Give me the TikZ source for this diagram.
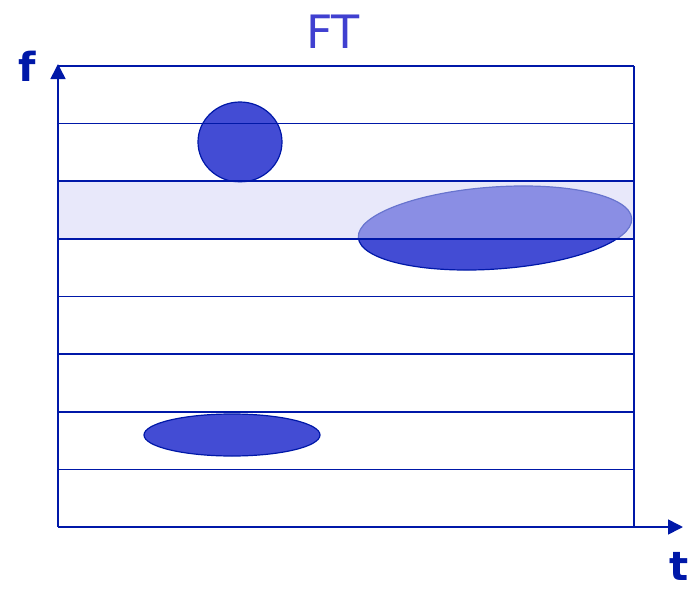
\documentclass[tikz,border=0pt]{standalone}
\usepackage{fontspec}
\setmainfont{DejaVu Sans}
\usepackage{tikz}
\usetikzlibrary{arrows.meta,shapes.geometric}
\definecolor{azulEixo}{RGB}{0,24,168}
\definecolor{azulMancha}{RGB}{67,76,212}
\definecolor{azulFaixa}{RGB}{209,209,245}
\definecolor{azulTitulo}{RGB}{64,64,208}
\tikzset{
    grade/.style={draw=azulEixo, line width=1.6pt},
    eixo/.style={grade, -{Triangle[length=15pt,width=15pt]}},
    mancha/.style={
        ellipse,
        draw=azulEixo,
        line width=1.2pt,
        fill=azulMancha,
        inner sep=0pt
    },
    faixa/.style={fill=azulFaixa, fill opacity=0.5},
    rotulo/.style={text=azulEixo, inner sep=0pt, font=\fontsize{40}{40}\selectfont\bfseries}
}
\begin{document}
\begin{tikzpicture}[x=1pt, y=-1pt]
    \useasboundingbox (0,0) rectangle (697,589);
    % manchas de energia no plano tempo-frequencia
    \node[mancha, minimum width=84pt, minimum height=80pt] (circulo) at (240,142) {};
    \node[mancha, minimum width=274pt, minimum height=82pt, rotate=4] (elipseGrande) at (495,228) {};
    \node[mancha, minimum width=176pt, minimum height=42pt] (elipsePequena) at (232,435) {};

    % faixa de frequencia destacada
    \fill[faixa] (58,181.25) rectangle (634,238.9);

    % grade de faixas
    \foreach \i in {0,...,8}
        \draw[grade] (58,{66+57.625*\i}) -- (634,{66+57.625*\i});
    \draw[grade] (634,66) -- (634,527);

    % eixos
    \coordinate (origem) at (58,527);
    \coordinate (topoF) at (58,64);
    \coordinate (fimT) at (683,527);
    \draw[eixo] (origem) -- (topoF);
    \draw[eixo] (origem) -- (fimT);

    \node[text=azulTitulo, font=\fontsize{46}{46}\selectfont] (titulo) at (333,32) {FT};
    \node[rotulo] (rotuloF) at (27,66) {f};
    \node[rotulo] (rotuloT) at (679,566) {t};
\end{tikzpicture}
\end{document}
